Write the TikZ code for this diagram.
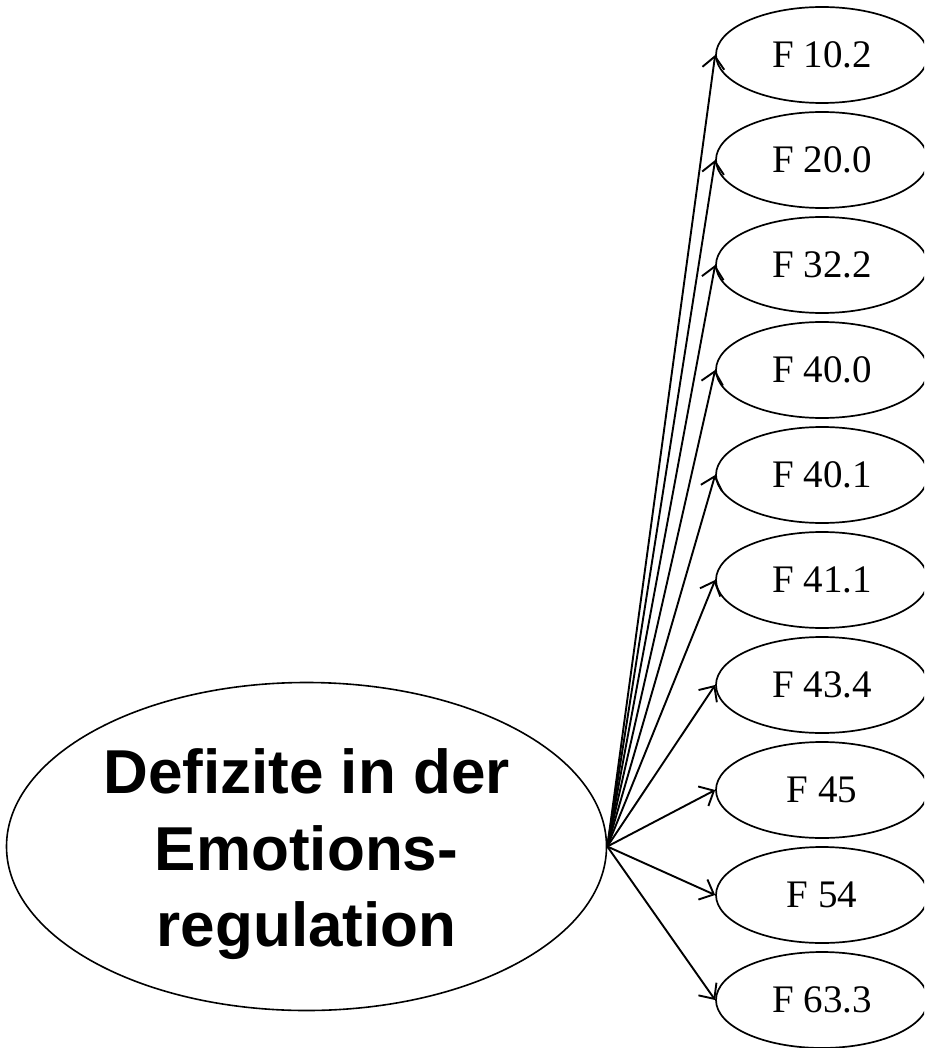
\documentclass[tikz,border=0pt]{standalone}
\usepackage{fontspec}
\setmainfont{Liberation Serif}
\newfontfamily\headfont{Liberation Sans}
\usetikzlibrary{shapes.geometric,arrows.meta}
\begin{document}
\begin{tikzpicture}[x=1pt,y=-1pt,
  code/.style={ellipse,draw,line width=1.7pt,minimum width=212pt,minimum height=96pt,
    inner sep=0pt,font=\fontsize{39}{44}\selectfont},
  link/.style={line width=1.9pt,-{Straight Barb[length=12pt,width=22pt,line width=1.9pt]}}]
\useasboundingbox (0,0) rectangle (924,1048);
\clip (0,0) rectangle (924,1048);
% central concept: outline and its three-line heading
\node[ellipse,draw,line width=1.6pt,minimum width=600pt,minimum height=328pt,inner sep=0pt]
  (main) at (306.5,846.5) {};
\node[align=center,inner sep=0pt,font=\headfont\bfseries\fontsize{62}{76.5}\selectfont]
  (mainlabel) at (306.5,854.5) {Defizite in der\\Emotions-\\regulation};
% diagnosis codes, each fed by an arrow from the central concept
\foreach \lab [count=\i from 0] in {F 10.2,F 20.0,F 32.2,F 40.0,F 40.1,F 41.1,F 43.4,F 45,F 54,F 63.3}{
  \node[code] (c\i) at (822,55+105*\i) {\lab};
  \draw[link] (main.east) -- (c\i.west);
}
\end{tikzpicture}
\end{document}
